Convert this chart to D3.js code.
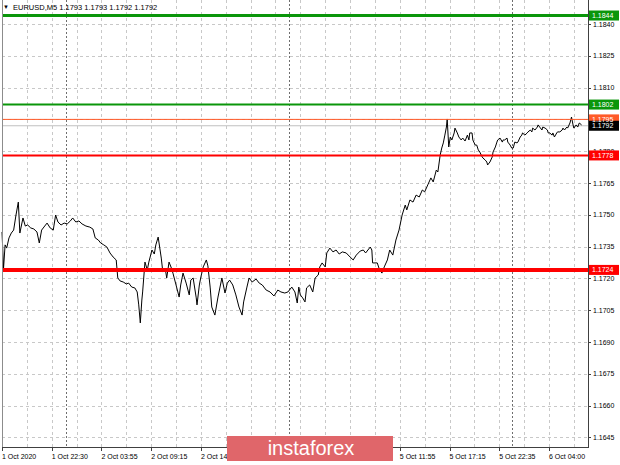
<!DOCTYPE html>
<html>
<head>
<meta charset="utf-8">
<script src="https://cdn.jsdelivr.net/npm/d3@7"></script>
<style>
html,body{margin:0;padding:0;background:#fff;}
svg{display:block;}
text{font-family:"Liberation Sans",Arial,sans-serif;}
</style>
</head>
<body>
<svg id="chart" width="620" height="465"></svg>
<script>
// ---- data ----
const symbolTitle = "EURUSD,M5";
const ohlcText = "1.1793 1.1793 1.1792 1.1792";
const bars = [0,2,4,6,9,12,15,18,21,23,27,30,33,37,41,45,48,51,55,58,62,66,69,72,76,80,84,88,91,95,99,103,108,113,117,120,124,127,131,135,139,143,147,149,152,156,160,163,167,171,174,176,178,180,181,184,187,189,193,196,198,201,205,207,210,212,215,218,220,224,228,230,233,237,241,243,246,250,251,254,256,259,263,265,268,270,274,278,283,287,290,293,297,301,305,309,311,315,318,322,327,331,335,340,345,350,355,359,364,368,373,377,380,382,384,387,390,392,396,400,403,407,409,412,416,418,422,426,430,434,438,443,448,452,456,461,465,468,474,476,477,483,486,489,492,496,499,503,507,511,515,519,521,525,529,533,537,541,544,548,552,555,559,561,564,566,568,570,572,573,575,577,579,582,583,586,588,591,593,596,599,601,602,605,606,609,611,613,615,618,619,622,624,625,628,631,632,635,637,638,641,644,645,647,650,651,654,656,658,660,663,664,667,669,670,673,676,677,680,682,683,686,689,690,692,695,696,699,702,703,705,708,709,711,714,715,718,721,722,724,727,728,731,733,735,736,739,741,743,746];
const closes = [1.17419,1.17249,1.17358,1.17343,1.17391,1.17414,1.17428,1.17499,1.17560,1.17414,1.17485,1.17447,1.17452,1.17438,1.17433,1.17419,1.17367,1.17428,1.17447,1.17461,1.17438,1.17428,1.17499,1.17466,1.17452,1.17461,1.17457,1.17471,1.17485,1.17466,1.17471,1.17457,1.17447,1.17442,1.17433,1.17391,1.17381,1.17367,1.17358,1.17348,1.17320,1.17301,1.17287,1.17202,1.17188,1.17183,1.17174,1.17178,1.17159,1.17155,1.17136,1.17075,1.16990,1.17098,1.17136,1.17277,1.17240,1.17277,1.17334,1.17315,1.17358,1.17395,1.17296,1.17230,1.17249,1.17202,1.17277,1.17249,1.17225,1.17169,1.17112,1.17169,1.17225,1.17178,1.17122,1.17192,1.17202,1.17108,1.17075,1.17169,1.17207,1.17254,1.17287,1.17259,1.17155,1.17065,1.17027,1.17112,1.17202,1.17131,1.17178,1.17192,1.17169,1.17122,1.17065,1.17027,1.17089,1.17155,1.17202,1.17183,1.17197,1.17178,1.17169,1.17145,1.17136,1.17117,1.17145,1.17136,1.17131,1.17136,1.17159,1.17136,1.17084,1.17159,1.17122,1.17108,1.17089,1.17155,1.17169,1.17136,1.17202,1.17216,1.17254,1.17273,1.17254,1.17320,1.17343,1.17325,1.17334,1.17315,1.17325,1.17320,1.17301,1.17287,1.17310,1.17329,1.17334,1.17320,1.17348,1.17334,1.17273,1.17273,1.17240,1.17225,1.17254,1.17287,1.17334,1.17310,1.17381,1.17428,1.17499,1.17546,1.17523,1.17570,1.17560,1.17593,1.17584,1.17617,1.17608,1.17641,1.17674,1.17655,1.17711,1.17702,1.17782,1.17815,1.17839,1.17876,1.17914,1.17952,1.17820,1.17867,1.17853,1.17886,1.17909,1.17886,1.17867,1.17853,1.17862,1.17848,1.17876,1.17853,1.17886,1.17886,1.17853,1.17829,1.17829,1.17806,1.17796,1.17773,1.17768,1.17758,1.17749,1.17735,1.17749,1.17773,1.17796,1.17820,1.17843,1.17853,1.17862,1.17843,1.17853,1.17853,1.17862,1.17843,1.17829,1.17815,1.17815,1.17843,1.17839,1.17843,1.17867,1.17876,1.17886,1.17876,1.17886,1.17891,1.17900,1.17891,1.17909,1.17900,1.17914,1.17924,1.17914,1.17900,1.17914,1.17909,1.17900,1.17886,1.17886,1.17876,1.17886,1.17867,1.17886,1.17891,1.17891,1.17900,1.17909,1.17900,1.17914,1.17909,1.17933,1.17961,1.17924,1.17909,1.17924,1.17914,1.17933,1.17924];
const yTicks = [1.1840,1.1825,1.1810,1.1795,1.1780,1.1765,1.1750,1.1735,1.1720,1.1705,1.1690,1.1675,1.1660,1.1645];
const xLabelBars = [0,64,128,192,256,320,384,448,512,576,640,704];
const xLabels = ["1 Oct 2020","1 Oct 22:30","2 Oct 03:55","2 Oct 09:15","2 Oct 14:35","2 Oct 19:55","5 Oct 01:15","5 Oct 06:35","5 Oct 11:55","5 Oct 17:15","5 Oct 22:35","6 Oct 04:00"];
const gridBars = d3.range(32, 750, 32);
const daySeparatorBars = [82, 369, 657];
const levelPrices = [1.1844, 1.1802, 1.1795, 1.1778, 1.1724];
const levelLabels = ["1.1844","1.1802","1.1795","1.1778","1.1724"];
const levelColors = ["#0a960a","#0a960a","#ff5a28","#ff0000","#ff0000"];
const levelWidths = [3, 2, 1, 2, 4];
const currentPrice = 1.1792;
const watermarkText = "instaforex";

// ---- layout ----
const svg = d3.select("#chart");
const L = 2, R = 588, T = 0, B = 447;
const x = d3.scaleLinear().domain([0, 755]).range([2, 588.6]);
const y = d3.scaleLinear().domain([1.1645, 1.1840]).range([437.4, 24]);

svg.append("rect").attr("width",620).attr("height",465).attr("fill","#fff");

// grid
const grid = svg.append("g");
grid.selectAll("line.h").data(yTicks).join("line")
  .attr("x1", L).attr("x2", R)
  .attr("y1", d => Math.round(y(d)) + 0.5).attr("y2", d => Math.round(y(d)) + 0.5)
  .attr("stroke", "#c8c8c8").attr("stroke-dasharray", "3,3").attr("stroke-width", 1);
grid.selectAll("line.v").data(gridBars.filter(b => x(b) < R - 1)).join("line")
  .attr("x1", d => Math.round(x(d)) + 0.5).attr("x2", d => Math.round(x(d)) + 0.5)
  .attr("y1", T).attr("y2", B)
  .attr("stroke", "#c8c8c8").attr("stroke-dasharray", "3,3").attr("stroke-width", 1);
grid.selectAll("line.d").data(daySeparatorBars).join("line")
  .attr("x1", d => Math.round(x(d)) + 0.5).attr("x2", d => Math.round(x(d)) + 0.5)
  .attr("y1", T).attr("y2", B)
  .attr("stroke", "#6e6e6e").attr("stroke-dasharray", "2,2").attr("stroke-width", 1);

// current price line (gray)
svg.append("line")
  .attr("x1", L).attr("x2", R)
  .attr("y1", y(currentPrice)).attr("y2", y(currentPrice))
  .attr("stroke", "#c0c0c0").attr("stroke-width", 1);

// price line
const pts = bars.map((b, i) => [b, closes[i]]);
svg.append("path")
  .attr("d", d3.line().x(d => x(d[0])).y(d => y(d[1]))(pts))
  .attr("fill", "none").attr("stroke", "#000").attr("stroke-width", 1);

// horizontal levels
svg.selectAll("line.lvl").data(levelPrices).join("line")
  .attr("x1", L).attr("x2", R)
  .attr("y1", d => y(d)).attr("y2", d => y(d))
  .attr("stroke", (d, i) => levelColors[i])
  .attr("stroke-width", (d, i) => levelWidths[i]);

// frame
svg.append("line").attr("x1", L + 0.5).attr("x2", L + 0.5).attr("y1", T).attr("y2", B)
  .attr("stroke", "#8c8c8c");
svg.append("line").attr("x1", R + 0.5).attr("x2", R + 0.5).attr("y1", T).attr("y2", B + 0.5)
  .attr("stroke", "#404040");
svg.append("line").attr("x1", L).attr("x2", R + 1).attr("y1", B + 0.5).attr("y2", B + 0.5)
  .attr("stroke", "#404040");

// y axis ticks and labels
const ya = svg.append("g");
ya.selectAll("line").data(yTicks).join("line")
  .attr("x1", R).attr("x2", R + 3)
  .attr("y1", d => Math.round(y(d)) + 0.5).attr("y2", d => Math.round(y(d)) + 0.5)
  .attr("stroke", "#404040");
ya.selectAll("text").data(yTicks).join("text")
  .attr("x", 593).attr("y", d => y(d) + 2.5)
  .attr("font-size", "7px").attr("fill", "#000")
  .text(d => d.toFixed(4));

// x axis ticks and labels
const xa = svg.append("g");
xa.selectAll("line").data(xLabelBars).join("line")
  .attr("x1", d => Math.round(x(d)) + 0.5).attr("x2", d => Math.round(x(d)) + 0.5)
  .attr("y1", B).attr("y2", B + 4)
  .attr("stroke", "#404040");
xa.selectAll("text").data(xLabelBars).join("text")
  .attr("x", d => x(d)).attr("y", 459)
  .attr("font-size", "7px").attr("fill", "#000")
  .text((d, i) => xLabels[i]);

// level price boxes
const boxes = svg.append("g");
const boxData = levelPrices.map((p, i) => ({p, label: levelLabels[i], color: levelColors[i]}));
boxData.push({p: currentPrice, label: currentPrice.toFixed(4), color: "#000"});
boxes.selectAll("rect").data(boxData).join("rect")
  .attr("x", 589).attr("y", d => y(d.p) - 5).attr("width", 30).attr("height", 10)
  .attr("fill", d => d.color);
boxes.selectAll("text").data(boxData).join("text")
  .attr("x", 592).attr("y", d => y(d.p) + 2.5)
  .attr("font-size", "7px").attr("fill", "#fff")
  .text(d => d.label);

// header
svg.append("text").attr("x", 3).attr("y", 9)
  .attr("font-size", "6px").attr("fill", "#000").text("\u25BC");
svg.append("text").attr("x", 13).attr("y", 9.5)
  .attr("font-size", "7.5px").attr("fill", "#000")
  .text(symbolTitle + "  " + ohlcText);

// watermark
svg.append("rect").attr("x", 227).attr("y", 436).attr("width", 166).attr("height", 25)
  .attr("fill", "#e0666a");
svg.append("text").attr("x", 311).attr("y", 455).attr("text-anchor", "middle")
  .attr("font-family", "'Open Sans', sans-serif").attr("font-weight", 300)
  .attr("font-size", "20px").attr("fill", "#fff").text(watermarkText);
</script>
</body>
</html>
